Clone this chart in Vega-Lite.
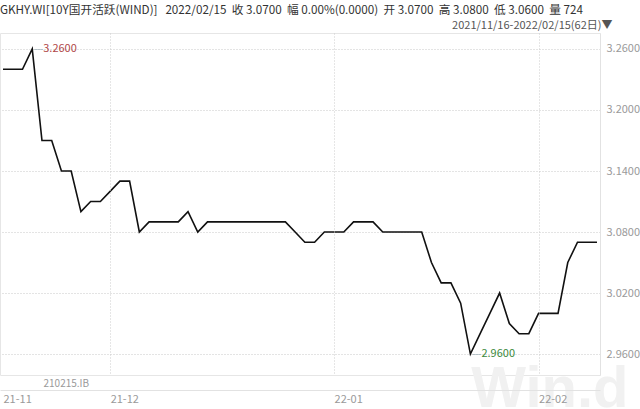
{
  "$schema": "https://vega.github.io/schema/vega-lite/v6.json",
  "width": 600,
  "height": 342,
  "autosize": {"type": "none"},
  "padding": {"left": 0, "top": 33, "right": 40, "bottom": 34},
  "background": "#ffffff",
  "config": {
    "view": {"stroke": "#e6e6e6", "strokeWidth": 1},
    "font": "Noto Sans CJK SC"
  },
  "title": {
    "text": "GKHY.WI[10Y国开活跃(WIND)]\u00a0\u00a0\u00a02022/02/15\u00a0\u00a0收 3.0700\u00a0\u00a0幅 0.00%(0.0000)\u00a0\u00a0开 3.0700\u00a0\u00a0高 3.0800\u00a0\u00a0低 3.0600\u00a0\u00a0量 724",
    "anchor": "start",
    "frame": "group",
    "fontSize": 11.7,
    "fontWeight": "normal",
    "color": "#333333",
    "font": "Noto Sans CJK SC",
    "offset": 2,
    "dy": 0
  },
  "data": {
    "values": [
      {"date": "2021-11-16", "v": 3.24}, {"date": "2021-11-17", "v": 3.24}, {"date": "2021-11-18", "v": 3.24}, {"date": "2021-11-19", "v": 3.26},
      {"date": "2021-11-22", "v": 3.17}, {"date": "2021-11-23", "v": 3.17}, {"date": "2021-11-24", "v": 3.14}, {"date": "2021-11-25", "v": 3.14},
      {"date": "2021-11-26", "v": 3.10}, {"date": "2021-11-29", "v": 3.11}, {"date": "2021-11-30", "v": 3.11},
      {"date": "2021-12-01", "v": 3.12}, {"date": "2021-12-02", "v": 3.13}, {"date": "2021-12-03", "v": 3.13}, {"date": "2021-12-06", "v": 3.08},
      {"date": "2021-12-07", "v": 3.09}, {"date": "2021-12-08", "v": 3.09}, {"date": "2021-12-09", "v": 3.09}, {"date": "2021-12-10", "v": 3.09},
      {"date": "2021-12-13", "v": 3.10}, {"date": "2021-12-14", "v": 3.08}, {"date": "2021-12-15", "v": 3.09}, {"date": "2021-12-16", "v": 3.09},
      {"date": "2021-12-17", "v": 3.09}, {"date": "2021-12-20", "v": 3.09}, {"date": "2021-12-21", "v": 3.09}, {"date": "2021-12-22", "v": 3.09},
      {"date": "2021-12-23", "v": 3.09}, {"date": "2021-12-24", "v": 3.09}, {"date": "2021-12-27", "v": 3.09}, {"date": "2021-12-28", "v": 3.08},
      {"date": "2021-12-29", "v": 3.07}, {"date": "2021-12-30", "v": 3.07}, {"date": "2021-12-31", "v": 3.08},
      {"date": "2022-01-04", "v": 3.08}, {"date": "2022-01-05", "v": 3.08}, {"date": "2022-01-06", "v": 3.09}, {"date": "2022-01-07", "v": 3.09},
      {"date": "2022-01-10", "v": 3.09}, {"date": "2022-01-11", "v": 3.08}, {"date": "2022-01-12", "v": 3.08}, {"date": "2022-01-13", "v": 3.08},
      {"date": "2022-01-14", "v": 3.08}, {"date": "2022-01-17", "v": 3.08}, {"date": "2022-01-18", "v": 3.05}, {"date": "2022-01-19", "v": 3.03},
      {"date": "2022-01-20", "v": 3.03}, {"date": "2022-01-21", "v": 3.01}, {"date": "2022-01-24", "v": 2.96}, {"date": "2022-01-25", "v": 2.98},
      {"date": "2022-01-26", "v": 3.00}, {"date": "2022-01-27", "v": 3.02}, {"date": "2022-01-28", "v": 2.99}, {"date": "2022-01-29", "v": 2.98},
      {"date": "2022-01-30", "v": 2.98},
      {"date": "2022-02-07", "v": 3.00}, {"date": "2022-02-08", "v": 3.00}, {"date": "2022-02-09", "v": 3.00}, {"date": "2022-02-10", "v": 3.05},
      {"date": "2022-02-11", "v": 3.07}, {"date": "2022-02-14", "v": 3.07}, {"date": "2022-02-15", "v": 3.07}
    ]
  },
  "resolve": {"axis": {"x": "independent", "y": "independent"}},
  "layer": [
    {
      "mark": {"type": "line", "color": "#111111", "strokeWidth": 1.6},
      "encoding": {
        "x": {
          "field": "date", "type": "ordinal", "sort": null,
          "scale": {"type": "point", "padding": 0.31},
          "axis": {
            "orient": "bottom",
            "zindex": 1,
            "values": ["2021-11-16", "2021-12-01", "2022-01-04", "2022-02-07"],
            "labelExpr": "slice(datum.value, 2, 7)",
            "labelAlign": "left",
            "labelDx": 3,
            "labelAngle": 0,
            "labelBaseline": "top",
            "labelPadding": 3,
            "labelColor": "#9a9a9a",
            "labelFontSize": 11,
            "ticks": false,
            "offset": 15,
            "domainColor": "#e2e2e2",
            "grid": true,
            "gridColor": "#cccccc",
            "gridDash": [1, 2],
            "gridOpacity": {"condition": {"test": "datum.value == '2021-11-16'", "value": 0}, "value": 1},
            "title": "210215.IB",
            "titleX": 43,
            "titleY": -7,
            "titleAlign": "left",
            "titleBaseline": "middle",
            "titleAnchor": null,
            "titleFontSize": 10,
            "titleFontWeight": "normal",
            "titleColor": "#9a9a9a"
          }
        },
        "y": {
          "field": "v", "type": "quantitative",
          "scale": {"domain": [2.9394, 3.2757], "nice": false, "zero": false},
          "axis": {
            "orient": "right",
            "zindex": 0,
            "values": [2.96, 3.02, 3.08, 3.14, 3.20, 3.26],
            "format": ".4f",
            "ticks": false,
            "labelPadding": 6,
            "labelColor": "#9a9a9a",
            "labelFontSize": 11,
            "domainColor": "#e2e2e2",
            "grid": true,
            "gridColor": "#c8c8c8",
            "gridDash": [1, 2],
            "title": "Win.d",
            "titleAngle": 0,
            "titleX": 28,
            "titleY": 373,
            "titleAlign": "right",
            "titleBaseline": "alphabetic",
            "titleFontSize": 58,
            "titleFontWeight": "bold",
            "titleFont": "Liberation Sans",
            "titleColor": "#f1f1f1"
          }
        }
      }
    },
    {
      "transform": [{"filter": "datum.v == 3.26"}],
      "mark": {"type": "text", "align": "left", "baseline": "middle", "dx": 1, "text": "——", "color": "#8fa9b0", "fontSize": 6},
      "encoding": {
        "x": {
          "field": "date", "type": "ordinal", "sort": null,
          "scale": {"type": "point", "padding": 0.31},
          "axis": {
            "orient": "top", "labels": false, "ticks": false, "domain": false, "grid": false,
            "title": "2021/11/16-2022/02/15(62日)▼",
            "titleX": 612, "titleY": -8, "titleAlign": "right", "titleBaseline": "middle", "titleAnchor": null,
            "titleFontSize": 11, "titleFontWeight": "normal", "titleColor": "#555555"
          }
        },
        "y": {"field": "v", "type": "quantitative", "axis": null}
      }
    },
    {
      "transform": [{"filter": "datum.v == 3.26"}],
      "mark": {"type": "text", "align": "left", "baseline": "middle", "dx": 11, "color": "#b04848", "fontSize": 11},
      "encoding": {
        "x": {"field": "date", "type": "ordinal", "sort": null, "scale": {"type": "point", "padding": 0.31}, "axis": null},
        "y": {"field": "v", "type": "quantitative", "axis": null},
        "text": {"field": "v", "type": "quantitative", "format": ".4f"}
      }
    },
    {
      "transform": [{"filter": "datum.v == 2.96"}],
      "mark": {"type": "text", "align": "left", "baseline": "middle", "dx": 1, "text": "——", "color": "#8fa9b0", "fontSize": 6},
      "encoding": {
        "x": {"field": "date", "type": "ordinal", "sort": null, "scale": {"type": "point", "padding": 0.31}, "axis": null},
        "y": {"field": "v", "type": "quantitative", "axis": null}
      }
    },
    {
      "transform": [{"filter": "datum.v == 2.96"}],
      "mark": {"type": "text", "align": "left", "baseline": "middle", "dx": 11, "color": "#3d8a3d", "fontSize": 11},
      "encoding": {
        "x": {"field": "date", "type": "ordinal", "sort": null, "scale": {"type": "point", "padding": 0.31}, "axis": null},
        "y": {"field": "v", "type": "quantitative", "axis": null},
        "text": {"field": "v", "type": "quantitative", "format": ".4f"}
      }
    }
  ]
}
